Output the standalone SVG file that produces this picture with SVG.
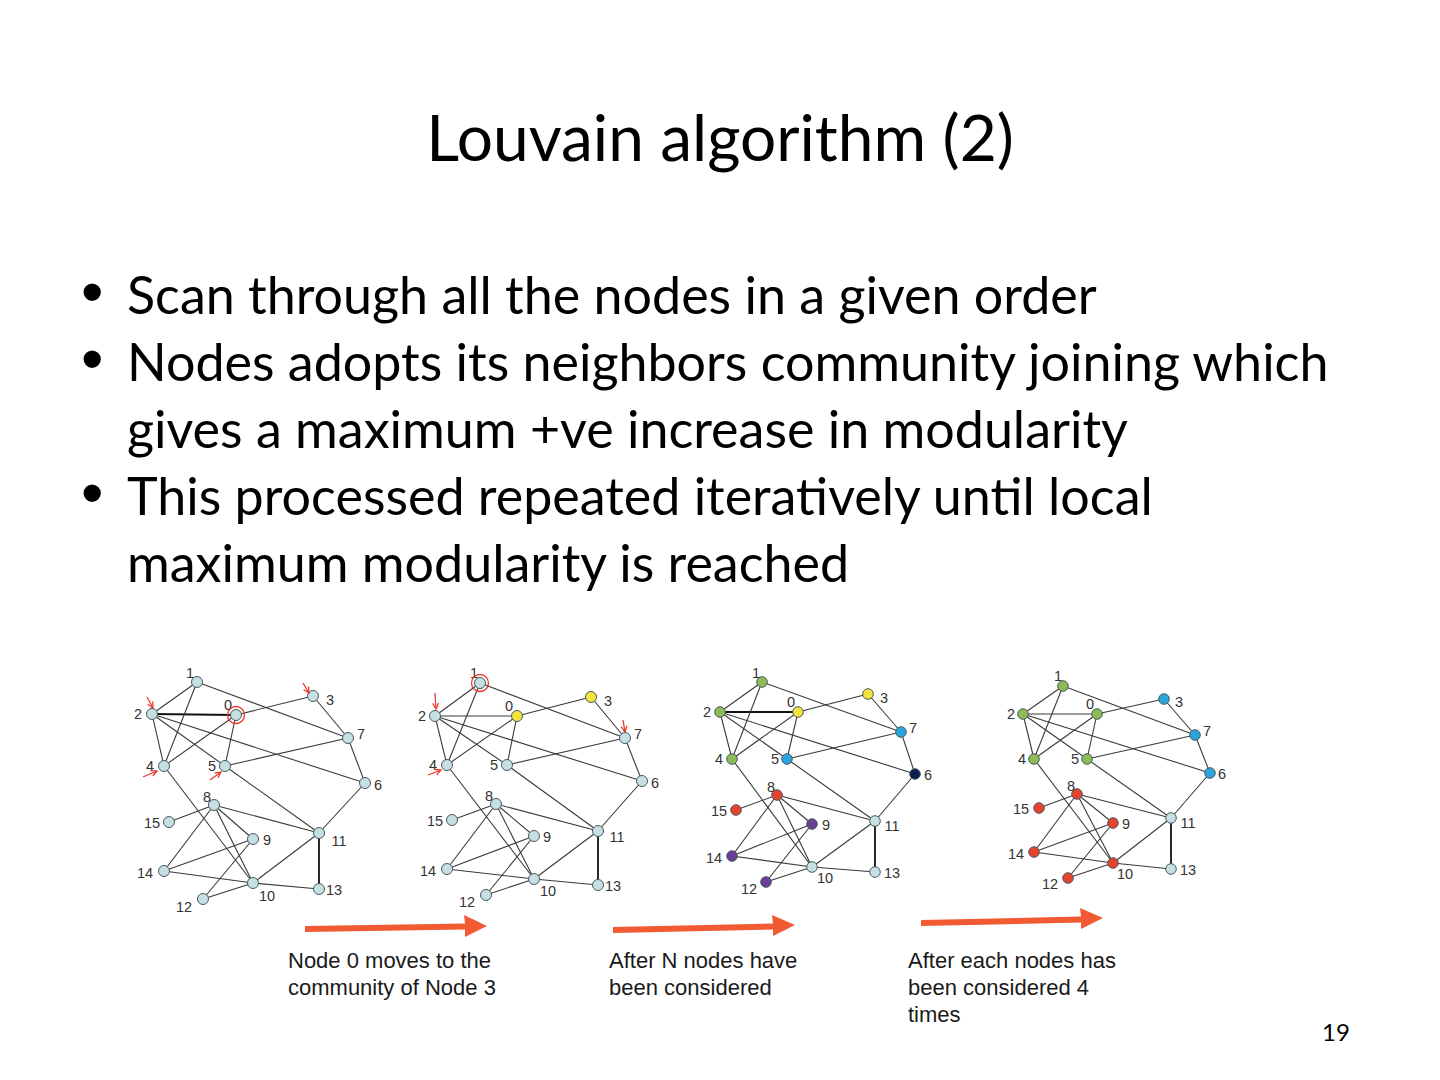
<svg xmlns="http://www.w3.org/2000/svg" width="1440" height="1080" viewBox="0 0 1440 1080">
<defs>
<style>
.title{font-family:Lato,"Liberation Sans",sans-serif;font-size:64px;fill:#000}
.body{font-family:Lato,"Liberation Sans",sans-serif;font-size:52px;fill:#000}
.bul{font-family:"Liberation Sans",Arial,sans-serif;font-size:64px;fill:#000}
.cap{font-family:"Liberation Sans",Arial,sans-serif;font-size:22px;fill:#1a1a1a}
.pg{font-family:Lato,"Liberation Sans",sans-serif;font-size:24px;fill:#000}
.e{stroke:#3a3a3a;stroke-width:1.1;fill:none}
.eb{stroke:#111;stroke-width:1.8;fill:none}
.n circle{stroke:#4a5a60;stroke-width:1}
.n text{font-family:"Liberation Sans",Arial,sans-serif;font-size:14.5px;fill:#333;text-anchor:middle}
.lb{fill:#c6dfe3}
.ye{fill:#f2e43c}
.gr{fill:#8dbb55}
.cy{fill:#2aa6dc}
.nv{fill:#0b1f4d}
.rd{fill:#e5432b}
.pu{fill:#6b3e98}
.mark{stroke:#e8392a;stroke-width:1.3;fill:none}
.oa{fill:#f15a32}
</style>
<marker id="rh" viewBox="0 0 8 8" refX="7" refY="4" markerWidth="6" markerHeight="6" orient="auto">
<path d="M1,1 L7,4 L1,7" stroke="#e8392a" stroke-width="1.3" fill="none"/>
</marker>
</defs>
<rect width="1440" height="1080" fill="#fff"/>
<text class="title" x="720" y="161" text-anchor="middle">Louvain algorithm (2)</text>
<g id="bullets">
<text class="bul" x="81" y="314">•</text>
<text class="body" x="127" y="314">Scan through all the nodes in a given order</text>
<text class="bul" x="81" y="381">•</text>
<text class="body" x="127" y="381">Nodes adopts its neighbors community joining which</text>
<text class="body" x="127" y="448">gives a maximum +ve increase in modularity</text>
<text class="bul" x="81" y="515">•</text>
<text class="body" x="127" y="515">This processed repeated iteratively until local</text>
<text class="body" x="127" y="582">maximum modularity is reached</text>
</g>

<g id="connectors">
<!-- graph 1 -->
<line class="eb" x1="236" y1="715" x2="152" y2="714"/>
<line class="e" x1="236" y1="715" x2="313" y2="696"/>
<line class="e" x1="236" y1="715" x2="164" y2="766"/>
<line class="e" x1="236" y1="715" x2="225" y2="766"/>
<line class="e" x1="197" y1="682" x2="152" y2="714"/>
<line class="e" x1="197" y1="682" x2="164" y2="766"/>
<line class="e" x1="197" y1="682" x2="348" y2="738"/>
<line class="e" x1="152" y1="714" x2="164" y2="766"/>
<line class="e" x1="152" y1="714" x2="225" y2="766"/>
<line class="e" x1="152" y1="714" x2="365" y2="783"/>
<line class="e" x1="313" y1="696" x2="348" y2="738"/>
<line class="e" x1="164" y1="766" x2="253" y2="883"/>
<line class="e" x1="225" y1="766" x2="348" y2="738"/>
<line class="e" x1="225" y1="766" x2="319" y2="833"/>
<line class="e" x1="365" y1="783" x2="348" y2="738"/>
<line class="e" x1="365" y1="783" x2="319" y2="833"/>
<line class="e" x1="214" y1="805" x2="253" y2="839"/>
<line class="e" x1="214" y1="805" x2="253" y2="883"/>
<line class="e" x1="214" y1="805" x2="319" y2="833"/>
<line class="e" x1="214" y1="805" x2="164" y2="871"/>
<line class="e" x1="214" y1="805" x2="169" y2="822"/>
<line class="e" x1="253" y1="839" x2="203" y2="899"/>
<line class="e" x1="253" y1="839" x2="164" y2="871"/>
<line class="e" x1="253" y1="883" x2="319" y2="833"/>
<line class="e" x1="253" y1="883" x2="203" y2="899"/>
<line class="e" x1="253" y1="883" x2="319" y2="889"/>
<line class="e" x1="253" y1="883" x2="164" y2="871"/>
<line class="eb" x1="319" y1="833" x2="319" y2="889"/>
<!-- graph 2 -->
<line class="e" x1="517" y1="716" x2="435" y2="716"/>
<line class="e" x1="517" y1="716" x2="591" y2="697"/>
<line class="e" x1="517" y1="716" x2="447" y2="765"/>
<line class="e" x1="517" y1="716" x2="507" y2="765"/>
<line class="e" x1="480" y1="683" x2="435" y2="716"/>
<line class="e" x1="480" y1="683" x2="447" y2="765"/>
<line class="e" x1="480" y1="683" x2="625" y2="738"/>
<line class="e" x1="435" y1="716" x2="447" y2="765"/>
<line class="e" x1="435" y1="716" x2="507" y2="765"/>
<line class="e" x1="435" y1="716" x2="642" y2="781"/>
<line class="e" x1="591" y1="697" x2="625" y2="738"/>
<line class="e" x1="447" y1="765" x2="534" y2="879"/>
<line class="e" x1="507" y1="765" x2="625" y2="738"/>
<line class="e" x1="507" y1="765" x2="598" y2="831"/>
<line class="e" x1="642" y1="781" x2="625" y2="738"/>
<line class="e" x1="642" y1="781" x2="598" y2="831"/>
<line class="e" x1="496" y1="804" x2="534" y2="836"/>
<line class="e" x1="496" y1="804" x2="534" y2="879"/>
<line class="e" x1="496" y1="804" x2="598" y2="831"/>
<line class="e" x1="496" y1="804" x2="447" y2="869"/>
<line class="e" x1="496" y1="804" x2="452" y2="820"/>
<line class="e" x1="534" y1="836" x2="486" y2="895"/>
<line class="e" x1="534" y1="836" x2="447" y2="869"/>
<line class="e" x1="534" y1="879" x2="598" y2="831"/>
<line class="e" x1="534" y1="879" x2="486" y2="895"/>
<line class="e" x1="534" y1="879" x2="598" y2="885"/>
<line class="e" x1="534" y1="879" x2="447" y2="869"/>
<line class="eb" x1="598" y1="831" x2="598" y2="885"/>
<!-- graph 3 -->
<line class="eb" x1="798" y1="712" x2="720" y2="712"/>
<line class="e" x1="798" y1="712" x2="868" y2="694"/>
<line class="e" x1="798" y1="712" x2="732" y2="759"/>
<line class="e" x1="798" y1="712" x2="787" y2="759"/>
<line class="e" x1="762" y1="682" x2="720" y2="712"/>
<line class="e" x1="762" y1="682" x2="732" y2="759"/>
<line class="e" x1="762" y1="682" x2="901" y2="732"/>
<line class="e" x1="720" y1="712" x2="732" y2="759"/>
<line class="e" x1="720" y1="712" x2="787" y2="759"/>
<line class="e" x1="720" y1="712" x2="915" y2="774"/>
<line class="e" x1="868" y1="694" x2="901" y2="732"/>
<line class="e" x1="732" y1="759" x2="812" y2="867"/>
<line class="e" x1="787" y1="759" x2="901" y2="732"/>
<line class="e" x1="787" y1="759" x2="875" y2="821"/>
<line class="e" x1="915" y1="774" x2="901" y2="732"/>
<line class="e" x1="915" y1="774" x2="875" y2="821"/>
<line class="e" x1="777" y1="795" x2="812" y2="824"/>
<line class="e" x1="777" y1="795" x2="812" y2="867"/>
<line class="e" x1="777" y1="795" x2="875" y2="821"/>
<line class="e" x1="777" y1="795" x2="732" y2="856"/>
<line class="e" x1="777" y1="795" x2="736" y2="810"/>
<line class="e" x1="812" y1="824" x2="766" y2="882"/>
<line class="e" x1="812" y1="824" x2="732" y2="856"/>
<line class="e" x1="812" y1="867" x2="875" y2="821"/>
<line class="e" x1="812" y1="867" x2="766" y2="882"/>
<line class="e" x1="812" y1="867" x2="875" y2="872"/>
<line class="e" x1="812" y1="867" x2="732" y2="856"/>
<line class="eb" x1="875" y1="821" x2="875" y2="872"/>
<!-- graph 4 -->
<line class="e" x1="1097" y1="714" x2="1023" y2="714"/>
<line class="e" x1="1097" y1="714" x2="1164" y2="699"/>
<line class="e" x1="1097" y1="714" x2="1034" y2="759"/>
<line class="e" x1="1097" y1="714" x2="1087" y2="759"/>
<line class="e" x1="1063" y1="686" x2="1023" y2="714"/>
<line class="e" x1="1063" y1="686" x2="1034" y2="759"/>
<line class="e" x1="1063" y1="686" x2="1195" y2="735"/>
<line class="e" x1="1023" y1="714" x2="1034" y2="759"/>
<line class="e" x1="1023" y1="714" x2="1087" y2="759"/>
<line class="e" x1="1023" y1="714" x2="1210" y2="773"/>
<line class="e" x1="1164" y1="699" x2="1195" y2="735"/>
<line class="e" x1="1034" y1="759" x2="1113" y2="863"/>
<line class="e" x1="1087" y1="759" x2="1195" y2="735"/>
<line class="e" x1="1087" y1="759" x2="1171" y2="818"/>
<line class="e" x1="1210" y1="773" x2="1195" y2="735"/>
<line class="e" x1="1210" y1="773" x2="1171" y2="818"/>
<line class="e" x1="1077" y1="794" x2="1113" y2="823"/>
<line class="e" x1="1077" y1="794" x2="1113" y2="863"/>
<line class="e" x1="1077" y1="794" x2="1171" y2="818"/>
<line class="e" x1="1077" y1="794" x2="1034" y2="852"/>
<line class="e" x1="1077" y1="794" x2="1039" y2="808"/>
<line class="e" x1="1113" y1="823" x2="1068" y2="878"/>
<line class="e" x1="1113" y1="823" x2="1034" y2="852"/>
<line class="e" x1="1113" y1="863" x2="1171" y2="818"/>
<line class="e" x1="1113" y1="863" x2="1068" y2="878"/>
<line class="e" x1="1113" y1="863" x2="1171" y2="869"/>
<line class="e" x1="1113" y1="863" x2="1034" y2="852"/>
<line class="eb" x1="1171" y1="818" x2="1171" y2="869"/>
<!-- orange arrows -->
<polygon class="oa" points="305,926 465,923.5 464,915 487,926 465,937 465,929.5 305,932"/>
<polygon class="oa" points="613,927 773,923.5 772,915 795,925 773,936 773,929.5 613,933"/>
<polygon class="oa" points="921,920 1081,916.5 1080,908 1103,918 1081,929 1081,922.5 921,926"/>
</g>

<g id="graph1">
<g id="g1-n0" class="n"><circle class="lb" cx="236" cy="715" r="5.5"/><text x="228" y="710">0</text></g>
<g id="g1-n1" class="n"><circle class="lb" cx="197" cy="682" r="5.5"/><text x="190" y="678">1</text></g>
<g id="g1-n2" class="n"><circle class="lb" cx="152" cy="714" r="5.5"/><text x="138" y="719">2</text></g>
<g id="g1-n3" class="n"><circle class="lb" cx="313" cy="696" r="5.5"/><text x="330" y="705">3</text></g>
<g id="g1-n4" class="n"><circle class="lb" cx="164" cy="766" r="5.5"/><text x="150" y="771">4</text></g>
<g id="g1-n5" class="n"><circle class="lb" cx="225" cy="766" r="5.5"/><text x="212" y="771">5</text></g>
<g id="g1-n6" class="n"><circle class="lb" cx="365" cy="783" r="5.5"/><text x="378" y="790">6</text></g>
<g id="g1-n7" class="n"><circle class="lb" cx="348" cy="738" r="5.5"/><text x="361" y="739">7</text></g>
<g id="g1-n8" class="n"><circle class="lb" cx="214" cy="805" r="5.5"/><text x="207" y="802">8</text></g>
<g id="g1-n9" class="n"><circle class="lb" cx="253" cy="839" r="5.5"/><text x="267" y="845">9</text></g>
<g id="g1-n10" class="n"><circle class="lb" cx="253" cy="883" r="5.5"/><text x="267" y="901">10</text></g>
<g id="g1-n11" class="n"><circle class="lb" cx="319" cy="833" r="5.5"/><text x="339" y="846">11</text></g>
<g id="g1-n12" class="n"><circle class="lb" cx="203" cy="899" r="5.5"/><text x="184" y="912">12</text></g>
<g id="g1-n13" class="n"><circle class="lb" cx="319" cy="889" r="5.5"/><text x="334" y="895">13</text></g>
<g id="g1-n14" class="n"><circle class="lb" cx="164" cy="871" r="5.5"/><text x="145" y="878">14</text></g>
<g id="g1-n15" class="n"><circle class="lb" cx="169" cy="822" r="5.5"/><text x="152" y="828">15</text></g>
<circle class="mark" cx="236" cy="715" r="8.5"/>
<path class="mark" d="M147,697 L153,708" marker-end="url(#rh)"/>
<path class="mark" d="M303,683 L309,693" marker-end="url(#rh)"/>
<path class="mark" d="M143,777 L157,771" marker-end="url(#rh)"/>
<path class="mark" d="M210,780 L221,772" marker-end="url(#rh)"/>
</g>

<g id="graph2">
<g id="g2-n0" class="n"><circle class="ye" cx="517" cy="716" r="5.5"/><text x="509" y="711">0</text></g>
<g id="g2-n1" class="n"><circle class="lb" cx="480" cy="683" r="5.5"/><text x="474" y="678">1</text></g>
<g id="g2-n2" class="n"><circle class="lb" cx="435" cy="716" r="5.5"/><text x="422" y="721">2</text></g>
<g id="g2-n3" class="n"><circle class="ye" cx="591" cy="697" r="5.5"/><text x="608" y="706">3</text></g>
<g id="g2-n4" class="n"><circle class="lb" cx="447" cy="765" r="5.5"/><text x="433" y="770">4</text></g>
<g id="g2-n5" class="n"><circle class="lb" cx="507" cy="765" r="5.5"/><text x="494" y="770">5</text></g>
<g id="g2-n6" class="n"><circle class="lb" cx="642" cy="781" r="5.5"/><text x="655" y="788">6</text></g>
<g id="g2-n7" class="n"><circle class="lb" cx="625" cy="738" r="5.5"/><text x="638" y="739">7</text></g>
<g id="g2-n8" class="n"><circle class="lb" cx="496" cy="804" r="5.5"/><text x="489" y="801">8</text></g>
<g id="g2-n9" class="n"><circle class="lb" cx="534" cy="836" r="5.5"/><text x="547" y="842">9</text></g>
<g id="g2-n10" class="n"><circle class="lb" cx="534" cy="879" r="5.5"/><text x="548" y="896">10</text></g>
<g id="g2-n11" class="n"><circle class="lb" cx="598" cy="831" r="5.5"/><text x="617" y="842">11</text></g>
<g id="g2-n12" class="n"><circle class="lb" cx="486" cy="895" r="5.5"/><text x="467" y="907">12</text></g>
<g id="g2-n13" class="n"><circle class="lb" cx="598" cy="885" r="5.5"/><text x="613" y="891">13</text></g>
<g id="g2-n14" class="n"><circle class="lb" cx="447" cy="869" r="5.5"/><text x="428" y="876">14</text></g>
<g id="g2-n15" class="n"><circle class="lb" cx="452" cy="820" r="5.5"/><text x="435" y="826">15</text></g>
<circle class="mark" cx="480" cy="683" r="8.5"/>
<path class="mark" d="M435,693 L436,709" marker-end="url(#rh)"/>
<path class="mark" d="M428,775 L441,770" marker-end="url(#rh)"/>
<path class="mark" d="M623,720 L625,732" marker-end="url(#rh)"/>
</g>

<g id="graph3">
<g id="g3-n0" class="n"><circle class="ye" cx="798" cy="712" r="5.3"/><text x="791" y="707">0</text></g>
<g id="g3-n1" class="n"><circle class="gr" cx="762" cy="682" r="5.3"/><text x="756" y="678">1</text></g>
<g id="g3-n2" class="n"><circle class="gr" cx="720" cy="712" r="5.3"/><text x="707" y="717">2</text></g>
<g id="g3-n3" class="n"><circle class="ye" cx="868" cy="694" r="5.3"/><text x="884" y="703">3</text></g>
<g id="g3-n4" class="n"><circle class="gr" cx="732" cy="759" r="5.3"/><text x="719" y="764">4</text></g>
<g id="g3-n5" class="n"><circle class="cy" cx="787" cy="759" r="5.3"/><text x="775" y="764">5</text></g>
<g id="g3-n6" class="n"><circle class="nv" cx="915" cy="774" r="5.3"/><text x="928" y="780">6</text></g>
<g id="g3-n7" class="n"><circle class="cy" cx="901" cy="732" r="5.3"/><text x="913" y="733">7</text></g>
<g id="g3-n8" class="n"><circle class="rd" cx="777" cy="795" r="5.3"/><text x="771" y="792">8</text></g>
<g id="g3-n9" class="n"><circle class="pu" cx="812" cy="824" r="5.3"/><text x="826" y="830">9</text></g>
<g id="g3-n10" class="n"><circle class="lb" cx="812" cy="867" r="5.3"/><text x="825" y="883">10</text></g>
<g id="g3-n11" class="n"><circle class="lb" cx="875" cy="821" r="5.3"/><text x="892" y="831">11</text></g>
<g id="g3-n12" class="n"><circle class="pu" cx="766" cy="882" r="5.3"/><text x="749" y="894">12</text></g>
<g id="g3-n13" class="n"><circle class="lb" cx="875" cy="872" r="5.3"/><text x="892" y="878">13</text></g>
<g id="g3-n14" class="n"><circle class="pu" cx="732" cy="856" r="5.3"/><text x="714" y="863">14</text></g>
<g id="g3-n15" class="n"><circle class="rd" cx="736" cy="810" r="5.3"/><text x="719" y="816">15</text></g>
</g>

<g id="graph4">
<g id="g4-n0" class="n"><circle class="gr" cx="1097" cy="714" r="5.3"/><text x="1090" y="709">0</text></g>
<g id="g4-n1" class="n"><circle class="gr" cx="1063" cy="686" r="5.3"/><text x="1058" y="681">1</text></g>
<g id="g4-n2" class="n"><circle class="gr" cx="1023" cy="714" r="5.3"/><text x="1011" y="719">2</text></g>
<g id="g4-n3" class="n"><circle class="cy" cx="1164" cy="699" r="5.3"/><text x="1179" y="707">3</text></g>
<g id="g4-n4" class="n"><circle class="gr" cx="1034" cy="759" r="5.3"/><text x="1022" y="764">4</text></g>
<g id="g4-n5" class="n"><circle class="gr" cx="1087" cy="759" r="5.3"/><text x="1075" y="764">5</text></g>
<g id="g4-n6" class="n"><circle class="cy" cx="1210" cy="773" r="5.3"/><text x="1222" y="779">6</text></g>
<g id="g4-n7" class="n"><circle class="cy" cx="1195" cy="735" r="5.3"/><text x="1207" y="736">7</text></g>
<g id="g4-n8" class="n"><circle class="rd" cx="1077" cy="794" r="5.3"/><text x="1071" y="791">8</text></g>
<g id="g4-n9" class="n"><circle class="rd" cx="1113" cy="823" r="5.3"/><text x="1126" y="829">9</text></g>
<g id="g4-n10" class="n"><circle class="rd" cx="1113" cy="863" r="5.3"/><text x="1125" y="879">10</text></g>
<g id="g4-n11" class="n"><circle class="lb" cx="1171" cy="818" r="5.3"/><text x="1188" y="828">11</text></g>
<g id="g4-n12" class="n"><circle class="rd" cx="1068" cy="878" r="5.3"/><text x="1050" y="889">12</text></g>
<g id="g4-n13" class="n"><circle class="lb" cx="1171" cy="869" r="5.3"/><text x="1188" y="875">13</text></g>
<g id="g4-n14" class="n"><circle class="rd" cx="1034" cy="852" r="5.3"/><text x="1016" y="859">14</text></g>
<g id="g4-n15" class="n"><circle class="rd" cx="1039" cy="808" r="5.3"/><text x="1021" y="814">15</text></g>
</g>

<g id="captions">
<text class="cap" x="288" y="968">Node 0 moves to the</text>
<text class="cap" x="288" y="995">community of Node 3</text>
<text class="cap" x="609" y="968">After N nodes have</text>
<text class="cap" x="609" y="995">been considered</text>
<text class="cap" x="908" y="968">After each nodes has</text>
<text class="cap" x="908" y="995">been considered 4</text>
<text class="cap" x="908" y="1022">times</text>
</g>
<text class="pg" x="1322" y="1041">19</text>
</svg>
